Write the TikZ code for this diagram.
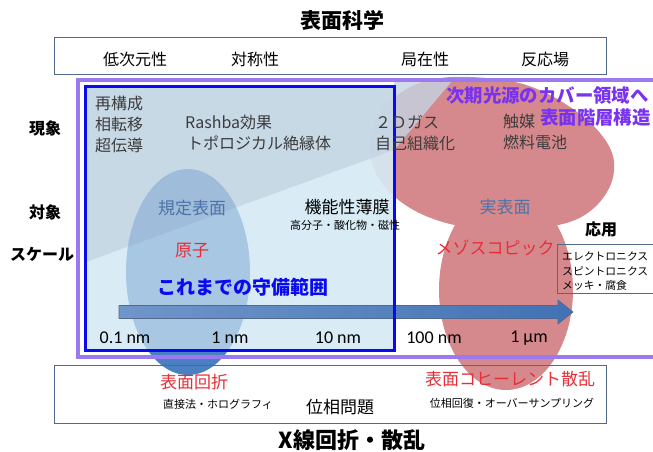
\documentclass[tikz,border=0pt]{standalone}
\usepackage{fontspec}
\setmainfont{Noto Sans CJK JP}
\newfontfamily\calibfont{Carlito}
\definecolor{pinkc}{RGB}{214,137,140}
\definecolor{cyanc}{RGB}{214,234,244}
\definecolor{bandc}{RGB}{196,212,228}
\definecolor{ellc}{RGB}{110,156,206}
\definecolor{elldark}{RGB}{74,128,194}
\definecolor{purplec}{RGB}{155,122,240}
\definecolor{bluec}{RGB}{10,10,240}
\definecolor{boxc}{RGB}{80,105,140}
\definecolor{darktext}{RGB}{60,60,60}
\definecolor{steelc}{RGB}{76,114,168}
\definecolor{redc}{RGB}{232,45,55}
\definecolor{violetc}{RGB}{120,50,240}
\definecolor{arrowL}{RGB}{112,150,202}
\definecolor{arrowR}{RGB}{66,114,180}
\newcommand\fsz[1]{\fontsize{#1pt}{#1pt}\selectfont}
\tikzset{
  lbl/.style={inner sep=0pt, text=darktext, font=\fsz{16}},
  lblL/.style={lbl, anchor=west},
  small/.style={inner sep=0pt, text=black, font=\fsz{11}},
  appt/.style={inner sep=0pt, anchor=west, text=black, font=\fsz{10.8}},
  side/.style={inner sep=0pt, text=black, font=\fsz{16}\bfseries},
  redlbl/.style={inner sep=0pt, text=redc, font=\fsz{17}},
  steellbl/.style={inner sep=0pt, text=steelc, font=\fsz{17}},
  scalelbl/.style={inner sep=0pt, text=black, font=\calibfont\fsz{18}},
  boxstyle/.style={draw=boxc, line width=0.9pt, inner sep=0pt},
  violetlbl/.style={inner sep=0pt, anchor=west, text=violetc, font=\fsz{18.4}\bfseries},
}
\begin{document}
\begin{tikzpicture}[x=1pt,y=-1pt]
\useasboundingbox (0,0) rectangle (653,452);
\clip (0,0) rectangle (653,452);
% pink mushroom
\fill[pinkc] plot[smooth cycle, tension=0.6] coordinates {(470,77) (515,82) (548,94) (577,112) (600,133) (613,156) (612,181) (598,204) (575,220) (540,228) (495,229) (450,224) (410,208) (381,182) (370,150) (378,115) (405,90) (435,79)};
\fill[pinkc] (506,290) ellipse [x radius=67pt, y radius=100pt];
% cyan fill of current range
\fill[cyanc, opacity=0.92] (86,87) rectangle (393,349);
% gray band
\fill[bandc, opacity=0.8] (86,87) -- (86,262) -- (394,150) -- (452,81) -- (394,81) -- (394,87) -- cycle;
% blue ellipse
\begin{scope}
  \clip (86,87) rectangle (393,349);
  \fill[ellc, opacity=0.45] (188,272) ellipse [x radius=62pt, y radius=103pt];
\end{scope}
\begin{scope}
  \clip (0,349) rectangle (653,452);
  \fill[elldark] (188,272) ellipse [x radius=62pt, y radius=103pt];
\end{scope}
% scale arrow
\coordinate (arS) at (119,312);
\coordinate (arE) at (573,312);
\shade[left color=arrowL, right color=arrowR, draw=boxc, line width=0.6pt]
  (119,305.5) -- (558,305.5) -- (558,300) -- (arE) -- (558,324) -- (558,318.5) -- (119,318.5) -- cycle;
% frames
\draw[purplec, line width=4pt] (78,80) rectangle (670,357);
\draw[bluec, line width=3pt] (85,86) rectangle (394,350);
\node[boxstyle, minimum width=552pt, minimum height=37pt] (topbox) at (330,55.5) {};
\node[boxstyle, minimum width=552pt, minimum height=58pt] (botbox) at (330,394) {};
\node[boxstyle, minimum width=110pt, minimum height=49pt] (appbox) at (612,268.5) {};
% titles
\node[inner sep=0pt, font=\fsz{21}\bfseries] (title) at (342,20) {表面科学};
\node[inner sep=0pt, font=\fsz{22}\bfseries] (xray) at (352,440) {X線回折・散乱};
% top box texts
\node[inner sep=0pt, font=\fsz{16}] (t1) at (135,59) {低次元性};
\node[inner sep=0pt, font=\fsz{16}] (t2) at (255,59) {対称性};
\node[inner sep=0pt, font=\fsz{16}] (t3) at (425,59) {局在性};
\node[inner sep=0pt, font=\fsz{16}] (t4) at (545,59) {反応場};
% side labels
\node[side] (genshou) at (45,128) {現象};
\node[side] (taishou) at (45,212) {対象};
\node[side] (scale) at (42,254) {スケール};
\node[side] (ouyou) at (601,229) {応用};
% phenomena
\node[lblL] (p1) at (95,103) {再構成};
\node[lblL] (p2) at (95,124) {相転移};
\node[lblL] (p3) at (95,145) {超伝導};
\node[lblL] (p4) at (185,122) {Rashba効果};
\node[lblL] (p5) at (187,143) {トポロジカル絶縁体};
\node[lblL] (p6) at (375,122) {２Ｄガス};
\node[lblL] (p7) at (375,143) {自己組織化};
\node[lblL] (p8) at (503,121) {触媒};
\node[lblL] (p9) at (503,142) {燃料電池};
\node[violetlbl] (v1) at (446,96) {次期光源のカバー領域へ};
\node[violetlbl] (v2) at (540,118) {表面階層構造};
% objects
\node[steellbl] (kitei) at (192,208) {規定表面};
\node[inner sep=0pt, font=\fsz{17}, text=black] (kinou) at (347,207) {機能性薄膜};
\node[small] (kinou2) at (345,225) {高分子・酸化物・磁性};
\node[steellbl] (jitsu) at (505,207) {実表面};
\node[redlbl] (genshi) at (192,251) {原子};
\node[redlbl] (meso) at (495,248) {メゾスコピック};
% application box texts
\node[appt] (a1) at (562,256) {エレクトロニクス};
\node[appt] (a2) at (562,271) {スピントロニクス};
\node[appt] (a3) at (562,285) {メッキ・腐食};
% range
\node[inner sep=0pt, text=bluec, font=\fsz{19}\bfseries] (range) at (243,287) {これまでの守備範囲};
% scale labels
\node[scalelbl] (s1) at (125,338) {0.1 nm};
\node[scalelbl] (s2) at (230,338) {1 nm};
\node[scalelbl] (s3) at (338,338) {10 nm};
\node[scalelbl] (s4) at (434,338) {100 nm};
\node[scalelbl] (s5) at (529,338) {1 µm};
% bottom box texts
\node[redlbl] (b1) at (194,382) {表面回折};
\node[small] (b2) at (218,404) {直接法・ホログラフィ};
\node[inner sep=0pt, font=\fsz{17}] (b3) at (340,407) {位相問題};
\node[redlbl] (b4) at (510,379) {表面コヒーレント散乱};
\node[small] (b5) at (512,403) {位相回復・オーバーサンプリング};
\end{tikzpicture}
\end{document}
